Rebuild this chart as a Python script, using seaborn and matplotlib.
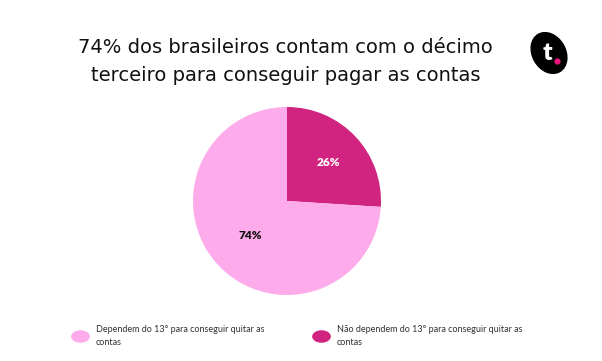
import numpy as np
import matplotlib.pyplot as plt
import seaborn as sns
from matplotlib.lines import Line2D
from matplotlib.patches import Ellipse
from matplotlib.path import Path
from matplotlib.transforms import Affine2D

labels = ['Não dependem do 13° para conseguir quitar as\ncontas',
          'Dependem do 13° para conseguir quitar as\ncontas']
values = [26, 74]
pct_labels = ['26%', '74%']
colors = ['#d02480', '#fdabea']
label_colors = ['white', '#111111']
label_radius = [0.6, 0.53]

title = '74% dos brasileiros contam com o décimo\nterceiro para conseguir pagar as contas'

sns.set_theme(style='white')
plt.rcParams['font.family'] = ['Lato', 'DejaVu Sans']

fig = plt.figure(figsize=(6.02, 3.61), dpi=100)
fig.patch.set_facecolor('white')

# pie axes: centre ~ (287, 201) px, radius ~ 94 px
cx, cy, r = 287, 201, 94
ax = fig.add_axes([(cx - r) / 602, (361 - cy - r) / 361, 2 * r / 602, 2 * r / 361])
wedges, _ = ax.pie(values, colors=colors, startangle=90, counterclock=False,
                   radius=1, wedgeprops=dict(linewidth=0))
ax.set_xlim(-1, 1)
ax.set_ylim(-1, 1)
ax.set_aspect('equal')

for w, txt, col, rr in zip(wedges, pct_labels, label_colors, label_radius):
    ang = np.deg2rad((w.theta1 + w.theta2) / 2)
    ax.text(rr * np.cos(ang), rr * np.sin(ang), txt, ha='center', va='center',
            fontsize=8.5, fontweight='heavy', color=col)

fig.text(0.474, 0.831, title, ha='center', va='center', fontsize=14,
         color='#111111', linespacing=1.6, family=['DejaVu Sans'])

# logo
lax = fig.add_axes([528 / 602, 1 - 78 / 361, 42 / 602, 50 / 361])
lax.set_xlim(0, 42)
lax.set_ylim(0, 50)
lax.axis('off')
lax.add_patch(Ellipse((21, 25), 33, 43, angle=30, color='black'))
lax.text(19.5, 24.5, 't', ha='center', va='center', fontsize=18, fontweight='heavy', color='white')
lax.plot([29], [17], 'o', color='#e8147f', markersize=3.5)

# oval legend markers
oval = Path.unit_circle().transformed(Affine2D().scale(1.5, 1.0))
handles = [Line2D([], [], marker=oval, linestyle='', markersize=13.5,
                  markerfacecolor=colors[1], markeredgewidth=0),
           Line2D([], [], marker=oval, linestyle='', markersize=13.5,
                  markerfacecolor=colors[0], markeredgewidth=0)]
leg = fig.legend(handles, [labels[1], labels[0]], ncol=2, loc='center left',
                 bbox_to_anchor=(71 / 602, 0.069), frameon=False, fontsize=6.5,
                 handletextpad=0.78, columnspacing=5.2, labelcolor='#333333',
                 handlelength=2.0, borderpad=0, borderaxespad=0)
for t in leg.get_texts():
    t.set_linespacing(1.65)

plt.savefig('out.png', dpi=100)
